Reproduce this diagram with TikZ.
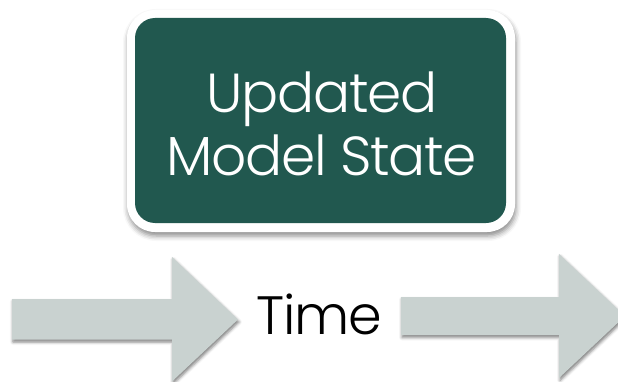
\documentclass[tikz,border=0pt]{standalone}
\usepackage{fontspec}
\newfontfamily\gothic{Poppins Light}[LetterSpace=-2.5]
\usetikzlibrary{shadows.blur}
\definecolor{stategreen}{RGB}{33,88,79}
\definecolor{arrowgray}{RGB}{201,210,208}
\begin{document}
\begin{tikzpicture}[x=1pt,y=1pt,
  framebox/.style={fill=white, rounded corners=28pt,
    blur shadow={shadow xshift=1pt, shadow yshift=-4pt, shadow blur radius=5pt, shadow opacity=45}},
  greenbox/.style={fill=stategreen, rounded corners=20pt},
  bigarrow/.style={fill=arrowgray,
    blur shadow={shadow xshift=1pt, shadow yshift=-2.5pt, shadow blur radius=3pt, shadow opacity=50}},
  boxtext/.style={text=white, font=\gothic\fontsize{55}{64}\selectfont, inner sep=0pt, anchor=base},
  timetext/.style={text=black, font=\gothic\fontsize{54}{64}\selectfont, inner sep=0pt, anchor=base}]
\useasboundingbox (0,0) rectangle (618,381);

% framed state box
\path[framebox] (127,149) rectangle (515,371);
\path[greenbox] (135,158) rectangle (506,363);
\node[boxtext] (upd) at (322,269) {Updated};
\node[boxtext] (mst) at (322,206) {Model State};

% time arrows
\coordinate (la) at (12,61.5);
\path[bigarrow] (la) ++(0,20.5) -- ++(160,0) -- ++(0,42) -- ++(66,-62.5) -- ++(-66,-62)
  -- ++(0,42) -- ++(-160,0) -- cycle;
\coordinate (ra) at (401,65);
\path[bigarrow] (ra) ++(0,19) -- ++(158,0) -- ++(0,43) -- ++(66,-62) -- ++(-66,-62)
  -- ++(0,43) -- ++(-158,0) -- cycle;

\node[timetext] (time) at (319.5,47) {Time};
\end{tikzpicture}
\end{document}
